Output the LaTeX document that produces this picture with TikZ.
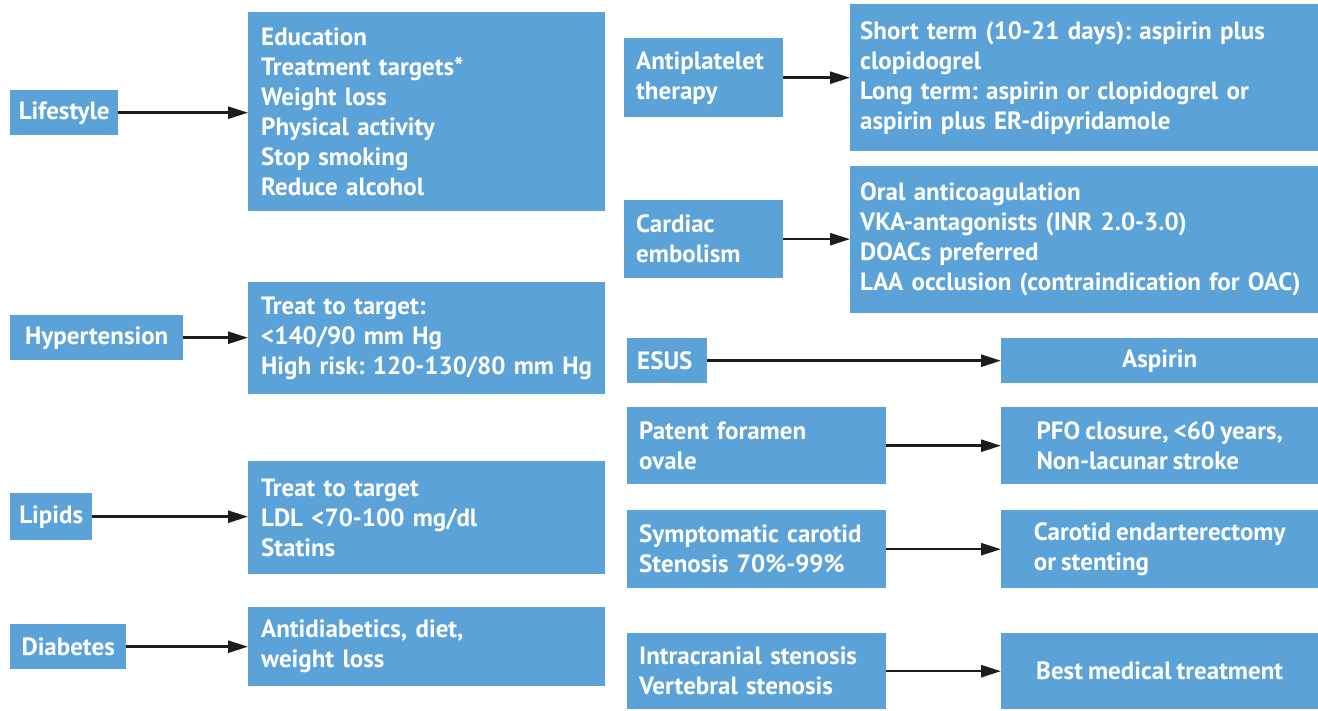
\documentclass[tikz,border=0pt]{standalone}
\usepackage{fontspec}
\setmainfont{PT Sans}[WordSpace=0.8]
\frenchspacing
\usetikzlibrary{arrows.meta}
\definecolor{boxblue}{RGB}{90,162,216}
\definecolor{arrowcol}{RGB}{28,28,28}
\tikzset{
  bx/.style={fill=boxblue, draw=none, text=white, anchor=north west, inner ysep=0pt,
    font=\frenchspacing\bfseries\fontsize{25}{30}\selectfont},
  lbx/.style={bx, align=left, inner xsep=#1},
  cbx/.style={bx, align=center, inner xsep=0pt},
  blk/.style={bx, align=left, inner xsep=0pt},
  arr/.style={draw=arrowcol, line width=2.5pt, -{Triangle[length=20pt,width=12pt]}}
}
\begin{document}
\begin{tikzpicture}[x=1pt,y=-1pt]
\useasboundingbox[fill=white] (0,0) rectangle (1318,711);
% left column labels
\node[cbx, minimum width=108pt, minimum height=45pt] (life) at (10,90) {Lifestyle};
\node[cbx, minimum width=173pt, minimum height=45pt] (hyp) at (10,315) {Hypertension};
\node[cbx, minimum width=82pt, minimum height=47pt] (lip) at (10,493) {Lipids};
\node[cbx, minimum width=116pt, minimum height=45pt] (dia) at (10,624) {Diabetes};
% left column targets
\node[lbx=13pt, text width=331pt, minimum height=199pt] (edu) at (248,12)
  {Education\\Treatment targets*\\Weight loss\\Physical activity\\Stop smoking\\Reduce alcohol};
\node[lbx=13pt, text width=331pt, minimum height=112pt] (hypt) at (248,282)
  {Treat to target:\\<140/90 mm Hg\\\mbox{High risk: 120-130/80 mm Hg}};
\node[lbx=13pt, text width=331pt, minimum height=113pt] (lipt) at (248,461)
  {Treat to target\\LDL <70-100 mg/dl\\Statins};
\node[lbx=13pt, text width=331pt, minimum height=79pt] (diat) at (248,607)
  {Antidiabetics, diet,\\weight loss};
% right column labels
\node[lbx=12pt, text width=135pt, minimum height=79pt] (anti) at (624,38)
  {Antiplatelet\\therapy};
\node[lbx=12pt, text width=135pt, minimum height=78pt] (card) at (624,200)
  {Cardiac\\embolism};
\node[lbx=10pt, text width=60pt, minimum height=45pt] (esus) at (627,338) {ESUS};
\node[lbx=12pt, text width=235pt, minimum height=77pt] (pfo) at (627,407)
  {Patent foramen\\ovale};
\node[lbx=12pt, text width=235pt, minimum height=78pt] (sym) at (627,510)
  {Symptomatic carotid\\Stenosis 70\%-99\%};
\node[lbx=12pt, text width=235pt, minimum height=76pt] (intra) at (627,633)
  {Intracranial stenosis\\Vertebral stenosis};
% right column targets
\node[lbx=10pt, text width=448pt, minimum height=147pt] (antit) at (850,4)
  {Short term (10-21 days): aspirin plus\\clopidogrel\\Long term: aspirin or clopidogrel or\\aspirin plus ER-dipyridamole};
\node[lbx=10pt, text width=448pt, minimum height=147pt] (cardt) at (850,166)
  {Oral anticoagulation\\VKA-antagonists (INR 2.0-3.0)\\DOACs preferred\\\mbox{LAA occlusion (contraindication for OAC)}};
\node[cbx, minimum width=317pt, minimum height=45pt] (asp) at (1001,338) {Aspirin};
\node[blk, minimum width=317pt, minimum height=77pt] (pfot) at (1001,407)
  {PFO closure, <60 years,\\Non-lacunar stroke};
\node[blk, minimum width=317pt, minimum height=78pt] (symt) at (1001,510)
  {Carotid endarterectomy\\or stenting};
\node[cbx, minimum width=317pt, minimum height=76pt] (best) at (1001,633)
  {Best medical treatment};
% arrows
\draw[arr] (life.east) -- (life.east -| edu.west);
\draw[arr] (hyp.east) -- (hyp.east -| hypt.west);
\draw[arr] (lip.east) -- (lip.east -| lipt.west);
\draw[arr] (dia.east) -- (dia.east -| diat.west);
\draw[arr] (anti.east) -- (anti.east -| antit.west);
\draw[arr] (card.east) -- (card.east -| cardt.west);
\draw[arr] (esus.east) -- (esus.east -| asp.west);
\draw[arr] (pfo.east) -- (pfo.east -| pfot.west);
\draw[arr] (sym.east) -- (sym.east -| symt.west);
\draw[arr] (intra.east) -- (intra.east -| best.west);
\end{tikzpicture}
\end{document}
